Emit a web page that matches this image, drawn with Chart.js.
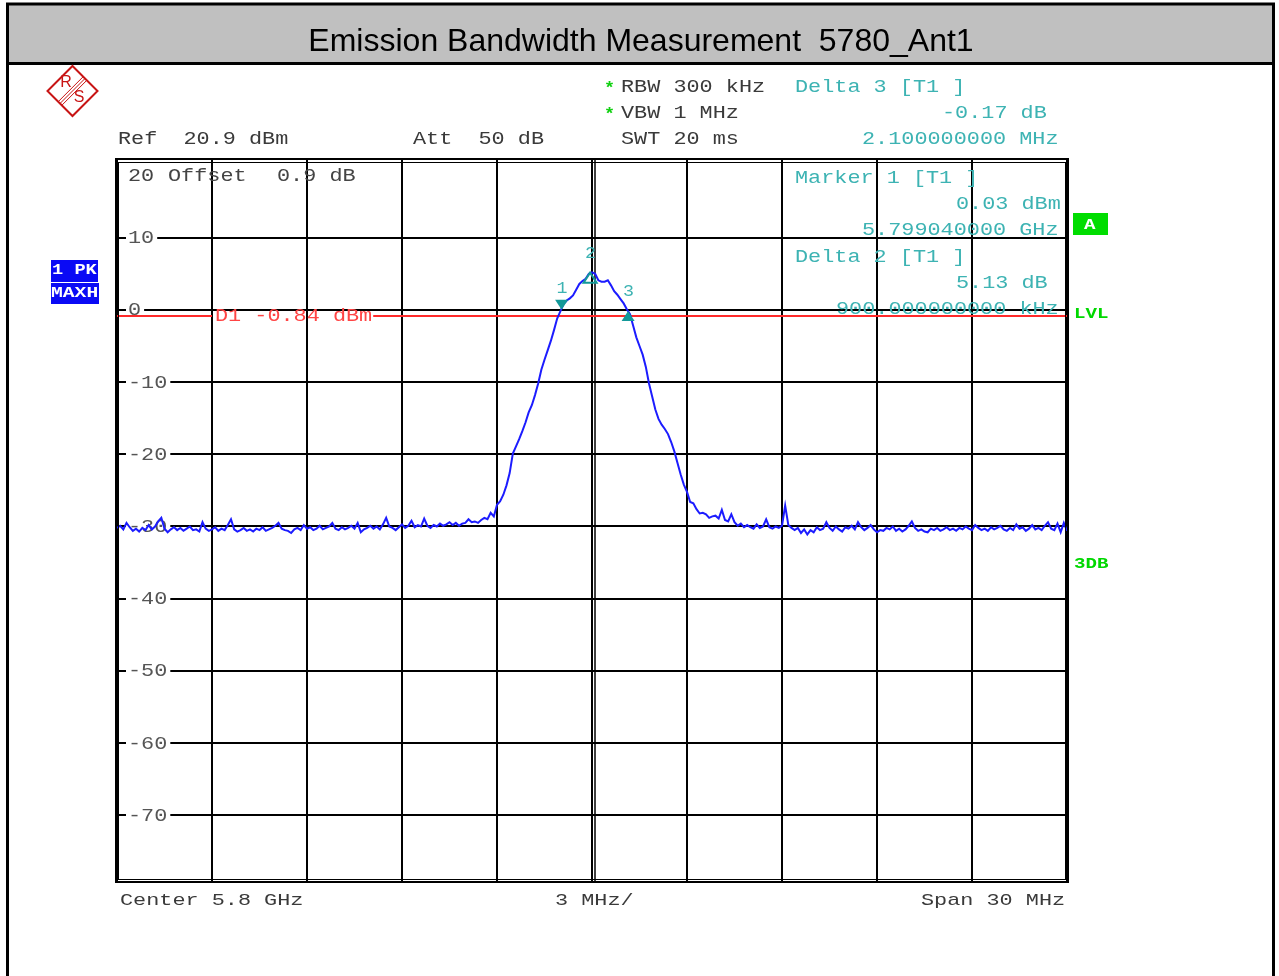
<!DOCTYPE html>
<html>
<head>
<meta charset="utf-8">
<title>Emission Bandwidth Measurement 5780_Ant1</title>
<script src="https://cdn.jsdelivr.net/npm/chart.js@4.4.0/dist/chart.umd.min.js"></script>
<style>
html, body { margin: 0; padding: 0; background: #fff; }
#wrap { position: relative; width: 1279px; height: 976px; }
</style>
</head>
<body>
<div id="wrap"><canvas id="emissionChart" width="1279" height="976"></canvas></div>
<script>
// trace: offset from the 5.8 GHz centre in MHz, one point every 0.1 MHz
const freqStart = -15;
const freqStep = 0.1;
const traceLevels = [
    -30.2, -29.9, -30.4, -29.5, -30.1, -30.6, -30.3, -30.7, -30.2, -30.5,
    -29.8, -30.4, -30.0, -29.3, -28.8, -30.3, -30.8, -30.4, -30.1, -30.5,
    -30.2, -30.6, -30.3, -30.0, -30.5, -30.4, -30.7, -29.4, -30.3, -30.6,
    -30.4, -30.1, -30.6, -30.3, -30.5, -29.8, -29.0, -30.4, -30.7, -30.5,
    -30.2, -30.6, -30.4, -30.7, -30.3, -30.5, -30.1, -30.6, -30.4, -30.2,
    -29.9, -29.5, -30.3, -30.5, -30.6, -30.9, -30.4, -30.2, -30.5, -29.8,
    -30.3, -30.1, -30.5, -30.3, -29.9, -30.4, -30.2, -30.0, -29.5, -30.3,
    -30.5, -30.1, -30.4, -30.2, -29.9, -30.3, -29.5, -30.8, -30.4, -30.2,
    -29.9, -30.3, -30.0, -30.4, -29.7, -28.8, -30.0, -30.2, -30.5, -30.1,
    -29.7, -30.2, -29.9, -29.2, -30.1, -29.8, -30.0, -28.9, -29.9, -30.2,
    -29.8, -30.0, -29.6, -29.9, -29.7, -29.4, -29.8, -29.5, -29.9, -29.6,
    -29.5, -29.0, -29.4, -29.3, -29.5, -29.1, -28.8, -29.0, -28.1, -28.6,
    -27.0, -26.5, -25.6, -24.3, -22.6, -19.9, -18.9, -17.9, -16.8, -15.6,
    -14.2, -13.2, -11.8, -10.2, -8.3, -6.9, -5.6, -4.3, -2.8, -1.2,
    -0.2, 0.8, 1.3, 1.6, 2.0, 2.8, 3.6, 4.0, 4.3, 5.0,
    5.2, 5.0, 4.1, 3.9, 3.9, 4.1, 3.4, 2.6, 2.1, 1.5,
    0.9, 0.1, -0.6, -2.2, -3.8, -5.0, -6.2, -7.9, -10.2, -12.0,
    -13.8, -15.1, -15.9, -16.5, -17.2, -18.3, -19.6, -21.2, -22.8, -24.2,
    -25.2, -26.6, -26.8, -27.6, -28.2, -28.1, -28.3, -28.8, -28.6, -28.5,
    -28.9, -27.7, -29.1, -29.3, -28.3, -29.4, -29.9, -29.6, -30.1, -29.8,
    -30.1, -30.3, -29.7, -30.2, -30.0, -29.0, -30.1, -30.3, -30.0, -30.2,
    -29.9, -27.1, -29.8, -30.2, -30.5, -30.2, -30.9, -30.4, -31.1, -30.5,
    -30.8, -30.1, -30.5, -30.3, -29.4, -30.2, -30.6, -30.0, -30.4, -30.7,
    -30.1, -30.3, -29.9, -30.4, -29.4, -30.1, -30.5, -30.2, -29.8, -30.4,
    -30.8, -30.5, -30.6, -30.2, -30.4, -30.0, -30.6, -30.3, -30.7, -30.4,
    -29.9, -29.3, -30.2, -30.6, -30.4, -30.7, -30.8, -30.3, -30.5, -30.2,
    -30.6, -30.4, -30.1, -30.5, -30.3, -30.6, -30.2, -30.4, -30.0, -30.3,
    -30.5, -29.8, -30.2, -30.5, -30.3, -30.6, -30.1, -30.4, -30.2, -29.9,
    -30.4, -30.6, -30.2, -30.5, -29.7, -30.3, -30.1, -30.6, -30.3, -29.8,
    -30.4, -30.2, -30.5, -29.9, -29.4, -30.3, -30.5, -29.6, -30.8, -29.5,
    -30.6
];
const yTicks = [10, 0, -10, -20, -30, -40, -50, -60, -70];
const refLevel = 20.9;
const displayLine = -0.84;
const markerNames = ['1', '2', '3'];
const markerFreqs = [-0.96, -0.06, 1.14];
const markerLevels = [0.03, 5.16, -0.14];

const MONO = '"Liberation Mono", "DejaVu Sans Mono", monospace';
const CELL = 13.1;
const TEAL_TEXT = '#3db3b3';
const TEAL_MARK = '#139999';
const GREY_TEXT = '#3a3a3a';

// analyzer-style fixed pitch text, stretched to the screen's character cell
function monoText(ctx, str, x, y, color, size, bold, cell) {
    ctx.save();
    ctx.font = (bold ? 'bold ' : '') + size + 'px ' + MONO;
    const adv = ctx.measureText('0').width;
    ctx.translate(x, y);
    ctx.scale((cell || CELL) / adv, 1);
    ctx.fillStyle = color;
    ctx.textBaseline = 'alphabetic';
    ctx.fillText(str, 0, 0);
    ctx.restore();
}

function drawLogo(ctx, cx, cy, r) {
    ctx.save();
    ctx.strokeStyle = '#c81414';
    ctx.fillStyle = '#c81414';
    ctx.lineWidth = 2;
    ctx.beginPath();
    ctx.moveTo(cx, cy - r);
    ctx.lineTo(cx + r, cy);
    ctx.lineTo(cx, cy + r);
    ctx.lineTo(cx - r, cy);
    ctx.closePath();
    ctx.stroke();
    ctx.lineWidth = 1;
    for (let k = -1; k <= 1; k++) {
        const o = k * 1.8;
        ctx.beginPath();
        ctx.moveTo(cx + r / 2 + o, cy - r / 2 + o);
        ctx.lineTo(cx - r / 2 + o, cy + r / 2 + o);
        ctx.stroke();
    }
    ctx.font = '16px "Liberation Sans", Arial, sans-serif';
    ctx.textAlign = 'center';
    ctx.textBaseline = 'middle';
    ctx.fillText('R', cx - 6.5, cy - 8.5);
    ctx.fillText('S', cx + 6.5, cy + 7);
    ctx.restore();
}

const analyzerPlugin = {
    id: 'analyzer',
    beforeDraw(chart) {
        const ctx = chart.ctx;
        ctx.save();
        ctx.fillStyle = '#fff';
        ctx.fillRect(0, 0, chart.width, chart.height);
        // title bar
        ctx.fillStyle = '#c0c0c0';
        ctx.fillRect(7, 4, 1266, 59);
        ctx.strokeStyle = '#000';
        ctx.lineWidth = 3;
        ctx.beginPath();
        ctx.moveTo(7.5, 990); ctx.lineTo(7.5, 4); ctx.lineTo(1273.5, 4); ctx.lineTo(1273.5, 990);
        ctx.moveTo(7, 63.5); ctx.lineTo(1274, 63.5);
        ctx.stroke();
        ctx.fillStyle = '#000';
        ctx.font = '32px "Liberation Sans", Arial, sans-serif';
        ctx.textAlign = 'center';
        ctx.fillText('Emission Bandwidth Measurement  5780_Ant1', 641, 51);
        ctx.restore();

        drawLogo(ctx, 72.5, 91, 25);

        // header settings
        monoText(ctx, '*', 604, 93, '#10d010', 16, true, 11);
        monoText(ctx, '*', 604, 119, '#10d010', 16, true, 11);
        monoText(ctx, 'RBW 300 kHz', 621, 92, GREY_TEXT, 18);
        monoText(ctx, 'VBW 1 MHz', 621, 118, GREY_TEXT, 18);
        monoText(ctx, 'SWT 20 ms', 621, 144, GREY_TEXT, 18);
        monoText(ctx, 'Ref  20.9 dBm', 118, 144, GREY_TEXT, 18);
        monoText(ctx, 'Att  50 dB', 413, 144, GREY_TEXT, 18);
        monoText(ctx, 'Delta 3 [T1 ]', 795, 92, TEAL_TEXT, 18);
        monoText(ctx, '-0.17 dB', 942, 118, TEAL_TEXT, 18);
        monoText(ctx, '2.100000000 MHz', 862, 144, TEAL_TEXT, 18);

        // side status boxes
        ctx.save();
        ctx.fillStyle = '#0a0af5';
        ctx.fillRect(51, 260, 47, 22);
        ctx.fillRect(51, 283, 48, 21);
        ctx.fillStyle = '#00dd00';
        ctx.fillRect(1073, 213, 35, 22);
        ctx.restore();
        monoText(ctx, '1 PK', 52, 274, '#fff', 15, true, 11.2);
        monoText(ctx, 'MAXH', 51, 297, '#fff', 15, true, 11.8);
        monoText(ctx, 'A', 1084, 229, '#fff', 15, true, 11.5);
        monoText(ctx, 'LVL', 1074, 318, '#00d800', 15, true, 11.5);
        monoText(ctx, '3DB', 1074, 568, '#00d800', 15, true, 11.5);

        // footer
        monoText(ctx, 'Center 5.8 GHz', 120, 905, GREY_TEXT, 17);
        monoText(ctx, '3 MHz/', 555, 905, GREY_TEXT, 17);
        monoText(ctx, 'Span 30 MHz', 921, 905, GREY_TEXT, 17);
    },
    beforeDatasetsDraw(chart) {
        const ctx = chart.ctx;
        const xs = chart.scales.x;
        const ys = chart.scales.y;
        const area = chart.chartArea;

        // second centre line
        const xc = Math.round(xs.getPixelForValue(0)) + 3;
        ctx.save();
        ctx.strokeStyle = '#000';
        ctx.lineWidth = 1.5;
        ctx.beginPath();
        ctx.moveTo(xc, area.top);
        ctx.lineTo(xc, area.bottom);
        ctx.stroke();
        ctx.restore();

        // y tick labels drawn inside the grid with a white backdrop
        yTicks.forEach(v => {
            const y = ys.getPixelForValue(v);
            const label = String(v);
            const w = label.length * CELL;
            ctx.save();
            ctx.fillStyle = '#fff';
            ctx.fillRect(area.left + 9, y - 4, w + 5, 8);
            ctx.restore();
            monoText(ctx, label, area.left + 11, y + 5.5, '#555', 18);
        });
        monoText(ctx, '20', 128, 181, '#444', 18);
        monoText(ctx, 'Offset', 168, 181, '#444', 18);
        monoText(ctx, '0.9 dB', 277, 181, '#444', 18);

        // display line D1
        const yd = ys.getPixelForValue(displayLine);
        const label = 'D1 ' + displayLine + ' dBm';
        const tx = 215;
        ctx.save();
        ctx.strokeStyle = '#ff2a2a';
        ctx.lineWidth = 2;
        ctx.beginPath();
        ctx.moveTo(area.left, yd);
        ctx.lineTo(tx - 3, yd);
        ctx.moveTo(tx + label.length * CELL + 1, yd);
        ctx.lineTo(area.right, yd);
        ctx.stroke();
        ctx.restore();
        monoText(ctx, label, tx, yd + 5, '#ff4444', 18);

        // marker readout block
        monoText(ctx, 'Marker 1 [T1 ]', 795, 183, TEAL_TEXT, 18);
        monoText(ctx, '0.03 dBm', 956, 209, TEAL_TEXT, 18);
        monoText(ctx, '5.799040000 GHz', 862, 235, TEAL_TEXT, 18);
        monoText(ctx, 'Delta 2 [T1 ]', 795, 261.5, TEAL_TEXT, 18);
        monoText(ctx, '5.13 dB', 956, 288, TEAL_TEXT, 18);
        monoText(ctx, '900.000000000 kHz', 836, 314, TEAL_TEXT, 18);
    },
    afterDatasetsDraw(chart) {
        const ctx = chart.ctx;
        const xs = chart.scales.x;
        const ys = chart.scales.y;
        const area = chart.chartArea;

        // markers
        markerNames.forEach((name, i) => {
            const px = xs.getPixelForValue(markerFreqs[i]);
            const py = ys.getPixelForValue(markerLevels[i]);
            ctx.save();
            ctx.fillStyle = TEAL_MARK;
            ctx.strokeStyle = TEAL_MARK;
            ctx.lineWidth = 2;
            ctx.beginPath();
            let labelY;
            if (i === 0) {
                ctx.moveTo(px, py);
                ctx.lineTo(px - 6.5, py - 10);
                ctx.lineTo(px + 6.5, py - 10);
                ctx.closePath();
                ctx.fill();
                labelY = py - 16.5;
            } else {
                ctx.moveTo(px, py);
                ctx.lineTo(px - 6.5, py + 10);
                ctx.lineTo(px + 6.5, py + 10);
                ctx.closePath();
                if (i === 1) ctx.stroke(); else ctx.fill();
                labelY = py - 14.5;
            }
            ctx.restore();
            monoText(ctx, name, px - 5, labelY, TEAL_TEXT, 17, false, 11);
        });

        // double frame
        ctx.save();
        ctx.strokeStyle = '#000';
        ctx.lineWidth = 2;
        ctx.strokeRect(area.left - 1, area.top, area.right - area.left + 2, area.bottom - area.top + 1);
        ctx.lineWidth = 1;
        ctx.strokeRect(area.left + 1.5, area.top + 3.5, area.right - area.left - 3, area.bottom - area.top - 5);
        ctx.restore();
    }
};

const canvas = document.getElementById('emissionChart');
const points = traceLevels.map((v, i) => ({ x: freqStart + i * freqStep, y: v }));

new Chart(canvas, {
    type: 'line',
    data: {
        datasets: [{
            label: 'Trace 1',
            data: points,
            borderColor: '#1c1cff',
            borderWidth: 2,
            pointRadius: 0,
            tension: 0,
            fill: false
        }]
    },
    options: {
        responsive: false,
        animation: false,
        devicePixelRatio: 1,
        layout: {
            padding: { left: 117, right: 212, top: 159, bottom: 95 }
        },
        plugins: {
            legend: { display: false },
            tooltip: { enabled: false },
            title: { display: false }
        },
        scales: {
            x: {
                type: 'linear',
                min: -15,
                max: 15,
                ticks: { stepSize: 3, display: false },
                grid: { color: '#000', lineWidth: 2, drawTicks: false },
                border: { display: false },
                afterFit: function(scale) { scale.height = 0; }
            },
            y: {
                type: 'linear',
                min: refLevel - 100,
                max: refLevel,
                afterBuildTicks: function(scale) {
                    scale.ticks = yTicks.map(v => ({ value: v }));
                },
                ticks: { display: false },
                grid: { color: '#000', lineWidth: 2, drawTicks: false },
                border: { display: false },
                afterFit: function(scale) { scale.width = 0; }
            }
        }
    },
    plugins: [analyzerPlugin]
});
</script>
</body>
</html>
